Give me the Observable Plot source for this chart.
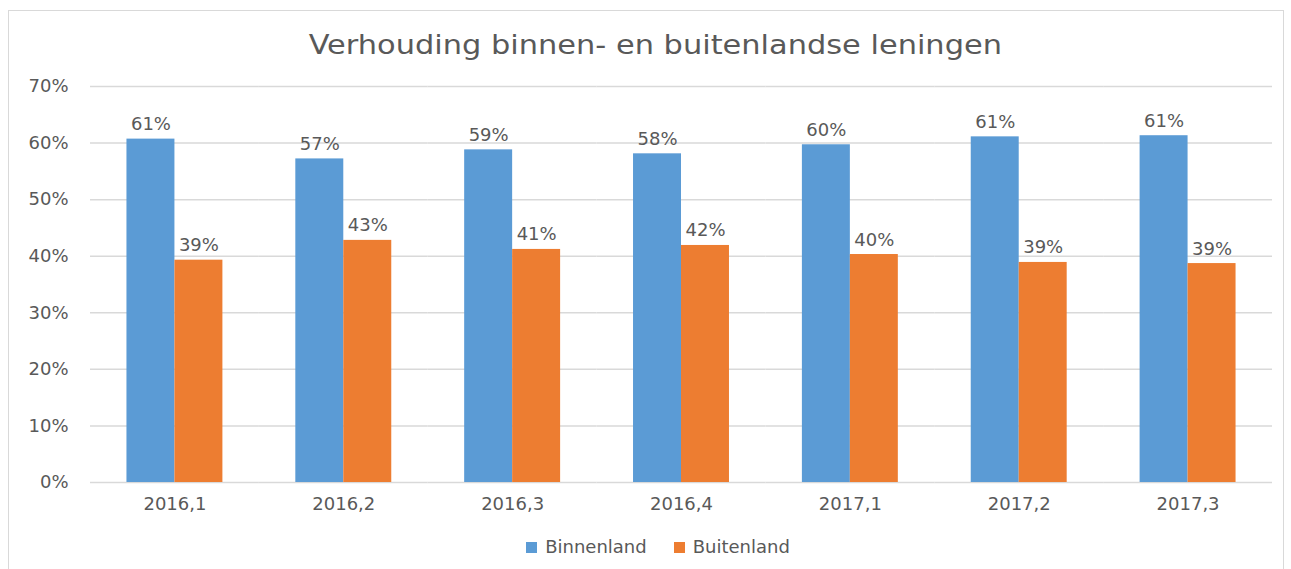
<!DOCTYPE html>
<html>
<head>
<meta charset="utf-8">
<script src="https://cdn.jsdelivr.net/npm/d3@7"></script>
<script src="https://cdn.jsdelivr.net/npm/@observablehq/plot@0.6"></script>
<style>
  html, body { margin: 0; padding: 0; background: #fff; }
  #wrap { position: relative; width: 1291px; height: 569px; overflow: hidden; font-family: "DejaVu Sans", sans-serif; color: #595959; }
  #frame { position: absolute; left: 8px; top: 10px; width: 1276px; height: 600px; border: 1.5px solid #d9d9d9; box-sizing: border-box; }
  #title { position: absolute; left: 0; width: 1310px; top: 27px; text-align: center; font-size: 26px; line-height: 36px; color: #595959; }
  #title span { display: inline-block; transform: scaleX(1.17); transform-origin: center; }
  #chart { position: absolute; left: 0; top: 0; }
  #legend { position: absolute; top: 536px; left: 0; width: 1316px; display: flex; justify-content: center; gap: 27px; font-size: 18px; line-height: 22px; }
  .item { display: flex; align-items: center; gap: 8px; }
  .sw { width: 11px; height: 11px; display: inline-block; }
</style>
</head>
<body>
<div id="wrap">
  <div id="frame"></div>
  <div id="title"><span>Verhouding binnen- en buitenlandse leningen</span></div>
  <div id="chart"></div>
  <div id="legend"></div>
</div>
<script>
const periods = ["2016,1", "2016,2", "2016,3", "2016,4", "2017,1", "2017,2", "2017,3"];
const seriesNames = ["Binnenland", "Buitenland"];
const binnenland = [60.7, 57.2, 58.8, 58.1, 59.7, 61.1, 61.3];
const buitenland = [39.3, 42.8, 41.2, 41.9, 40.3, 38.9, 38.7];
const yTicks = [0, 10, 20, 30, 40, 50, 60, 70];
const colors = ["#5B9BD5", "#ED7D31"];

const data = [];
periods.forEach((p, i) => {
  data.push({period: p, series: seriesNames[0], value: binnenland[i]});
  data.push({period: p, series: seriesNames[1], value: buitenland[i]});
});

const chart = Plot.plot({
  width: 1291,
  height: 522,
  marginTop: 86,
  marginBottom: 40,
  marginLeft: 90,
  marginRight: 19,
  style: {fontFamily: "DejaVu Sans, sans-serif", fontSize: "18px", color: "#595959", background: "transparent"},
  fx: {domain: periods, padding: 0, round: false, label: null},
  x: {domain: seriesNames, paddingInner: 0, paddingOuter: 0.76, round: false, axis: null},
  y: {domain: [0, 70], label: null},
  color: {domain: seriesNames, range: colors},
  marks: [
    Plot.gridY(yTicks, {stroke: "#d9d9d9", strokeOpacity: 1, strokeWidth: 1.5}),
    Plot.barY(data, {fx: "period", x: "series", y: "value", fill: "series"}),
    Plot.text(data, {fx: "period", x: "series", y: "value", text: d => Math.round(d.value) + "%", lineAnchor: "bottom", dy: -9, fill: "#595959", fontSize: 18}),
    Plot.axisY(yTicks, {tickSize: 0, tickPadding: 22, tickFormat: d => d + "%", fontSize: 18, fill: "#595959", label: null}),
    Plot.axisFx({anchor: "bottom", tickSize: 0, tickPadding: 15, fontSize: 18, fill: "#595959", label: null})
  ]
});
document.getElementById("chart").appendChild(chart);

const legend = document.getElementById("legend");
seriesNames.forEach((s, i) => {
  const it = document.createElement("div");
  it.className = "item";
  const sw = document.createElement("span");
  sw.className = "sw";
  sw.style.background = colors[i];
  const t = document.createElement("span");
  t.textContent = s;
  it.appendChild(sw); it.appendChild(t);
  legend.appendChild(it);
});
</script>
</body>
</html>
